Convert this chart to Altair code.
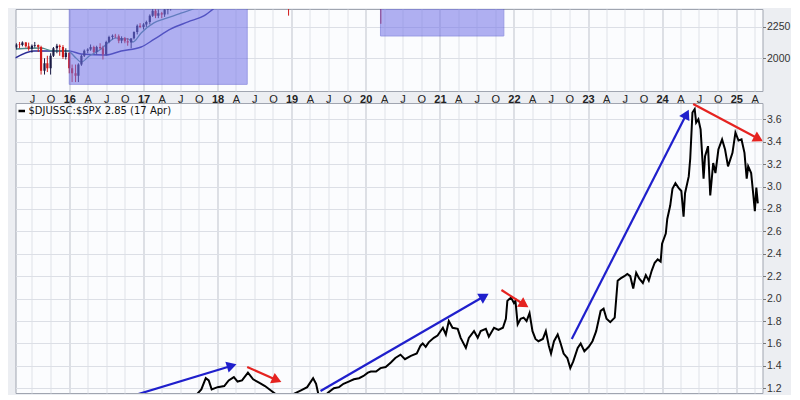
import altair as alt
import pandas as pd

# ---------------- ratio line ($DJUSSC:$SPX) ----------------
ratio_year = [2017.24, 2017.33, 2017.41, 2017.53, 2017.67, 2017.78, 2017.84, 2017.88, 2017.92, 2018.00,
              2018.09, 2018.15, 2018.22, 2018.27, 2018.33, 2018.41, 2018.48, 2018.56, 2018.64, 2018.72,
              2018.80, 2018.87, 2018.95, 2019.03, 2019.12, 2019.21, 2019.29, 2019.33, 2019.37, 2019.42,
              2019.49, 2019.57, 2019.64, 2019.70, 2019.77, 2019.84, 2019.91, 2019.97, 2020.03, 2020.07,
              2020.14, 2020.20, 2020.27, 2020.34, 2020.40, 2020.47, 2020.53, 2020.61, 2020.69, 2020.74,
              2020.77, 2020.81, 2020.85, 2020.92, 2020.97, 2021.04, 2021.08, 2021.12, 2021.17, 2021.24,
              2021.28, 2021.35, 2021.39, 2021.46, 2021.51, 2021.55, 2021.62, 2021.66, 2021.73, 2021.79,
              2021.85, 2021.89, 2021.91, 2021.96, 2022.00, 2022.02, 2022.05, 2022.09, 2022.13, 2022.17,
              2022.21, 2022.25, 2022.29, 2022.33, 2022.39, 2022.43, 2022.47, 2022.50, 2022.54, 2022.59,
              2022.63, 2022.67, 2022.72, 2022.76, 2022.80, 2022.86, 2022.90, 2022.95, 2023.01, 2023.06,
              2023.11, 2023.17, 2023.21, 2023.25, 2023.30, 2023.36, 2023.40, 2023.44, 2023.49, 2023.53,
              2023.57, 2023.61, 2023.65, 2023.69, 2023.74, 2023.78, 2023.82, 2023.86, 2023.90, 2023.94,
              2023.98, 2024.00, 2024.05, 2024.07, 2024.11, 2024.14, 2024.18, 2024.22, 2024.26, 2024.29,
              2024.31, 2024.36, 2024.38, 2024.41, 2024.44, 2024.46, 2024.49, 2024.52, 2024.56, 2024.58,
              2024.62, 2024.65, 2024.69, 2024.72, 2024.76, 2024.81, 2024.85, 2024.89, 2024.95, 2024.99,
              2025.03, 2025.07, 2025.11, 2025.14, 2025.16, 2025.20, 2025.23, 2025.25, 2025.27, 2025.29]
ratio_value = [1.04, 1.10, 1.13, 1.10, 1.11, 1.19, 1.29, 1.27, 1.19, 1.21,
               1.22, 1.27, 1.30, 1.26, 1.27, 1.34, 1.28, 1.25, 1.22, 1.18,
               1.14, 1.10, 1.11, 1.15, 1.18, 1.21, 1.29, 1.24, 1.12, 1.11,
               1.16, 1.20, 1.21, 1.24, 1.26, 1.28, 1.29, 1.31, 1.34, 1.35,
               1.35, 1.38, 1.39, 1.43, 1.47, 1.50, 1.46, 1.49, 1.51, 1.58,
               1.60, 1.57, 1.61, 1.65, 1.67, 1.74, 1.68, 1.80, 1.74, 1.73,
               1.65, 1.56, 1.65, 1.71, 1.65, 1.71, 1.73, 1.66, 1.74, 1.72,
               1.74, 1.82, 1.98, 2.01, 1.96, 1.98, 1.77, 1.82, 1.83, 1.80,
               1.87, 1.71, 1.64, 1.62, 1.64, 1.71, 1.58, 1.51, 1.62, 1.68,
               1.60, 1.51, 1.47, 1.38, 1.44, 1.56, 1.60, 1.53, 1.57, 1.62,
               1.71, 1.89, 1.91, 1.82, 1.79, 1.83, 2.16, 2.18, 2.20, 2.22,
               2.20, 2.09, 2.23, 2.18, 2.14, 2.21, 2.16, 2.25, 2.32, 2.35,
               2.33, 2.49, 2.58, 2.71, 2.83, 2.98, 3.03, 2.99, 2.96, 2.73,
               2.94, 3.09, 3.25, 3.66, 3.69, 3.57, 3.60, 3.51, 3.07, 3.27,
               3.36, 2.92, 3.21, 3.12, 3.33, 3.42, 3.33, 3.18, 3.30, 3.48,
               3.41, 3.42, 3.30, 3.07, 3.18, 3.12, 2.92, 2.78, 2.99, 2.85]

# ---------------- price panel candles (semi-monthly, visible parts) ----------------
candle_date = ["2015-04-15", "2015-05-01", "2015-05-15", "2015-06-01", "2015-06-15", "2015-07-01",
               "2015-07-15", "2015-08-01", "2015-08-15", "2015-09-01", "2015-09-15", "2015-10-01",
               "2015-10-15", "2015-11-01", "2015-11-15", "2015-12-01", "2015-12-15", "2016-01-01",
               "2016-01-15", "2016-02-01", "2016-02-15", "2016-03-01", "2016-03-15", "2016-04-01",
               "2016-04-15", "2016-05-01", "2016-05-15", "2016-06-01", "2016-06-15", "2016-07-01",
               "2016-07-15", "2016-08-01", "2016-08-15", "2016-09-01", "2016-09-15", "2016-10-01",
               "2016-10-15", "2016-11-01", "2016-11-15", "2016-12-01", "2016-12-15", "2017-01-01",
               "2017-01-15", "2017-02-01", "2017-02-15", "2017-03-01", "2017-03-15", "2017-04-01",
               "2017-04-15", "2017-05-01", "2017-05-15", "2017-06-01", "2017-06-15", "2017-07-01",
               "2017-07-15", "2017-08-01", "2017-08-15", "2017-09-01",
               "2018-12-03", "2018-12-17", "2019-01-01",
               "2020-03-02", "2020-03-16", "2020-04-01"]
candle_open = [2085, 2110, 2105, 2125, 2095, 2075, 2100, 2105, 2090, 1900, 1960, 1920,
               2020, 2080, 2100, 2090, 2010, 2045, 1920, 1880, 1860, 1950, 2020, 2060,
               2070, 2090, 2050, 2090, 2080, 2030, 2130, 2170, 2180, 2175, 2140, 2160,
               2135, 2125, 2160, 2210, 2260, 2250, 2270, 2290, 2340, 2380, 2340, 2360,
               2350, 2390, 2400, 2420, 2440, 2430, 2470, 2475, 2430, 2445,
               2790, 2600, 2507,
               3000, 2500, 2450]
candle_high = [2120, 2130, 2135, 2130, 2125, 2110, 2130, 2110, 2100, 2000, 2020, 2040,
               2090, 2115, 2110, 2105, 2080, 2045, 1950, 1950, 1960, 2030, 2070, 2080,
               2110, 2100, 2100, 2120, 2100, 2140, 2180, 2190, 2195, 2190, 2175, 2170,
               2160, 2130, 2215, 2270, 2280, 2280, 2300, 2350, 2400, 2400, 2390, 2370,
               2400, 2410, 2430, 2450, 2455, 2480, 2485, 2490, 2460, 2490,
               2800, 2610, 2640,
               3130, 2560, 2800]
candle_low = [2070, 2080, 2095, 2085, 2060, 2045, 2085, 2050, 1870, 1870, 1890, 1870,
              2010, 2040, 2020, 1995, 1990, 1880, 1810, 1810, 1810, 1940, 2010, 2040,
              2060, 2040, 2030, 2070, 1990, 2020, 2120, 2150, 2160, 2120, 2120, 2120,
              2100, 2080, 2150, 2190, 2240, 2230, 2250, 2270, 2330, 2320, 2320, 2320,
              2330, 2350, 2380, 2410, 2410, 2410, 2450, 2415, 2415, 2440,
              2620, 2340, 2444,
              2480, 2275, 2450]
candle_close = [2110, 2105, 2125, 2095, 2075, 2100, 2105, 2090, 1900, 1960, 1920, 2020,
                2080, 2100, 2090, 2010, 2045, 1920, 1880, 1860, 1950, 2020, 2060, 2070,
                2090, 2050, 2090, 2080, 2030, 2130, 2170, 2180, 2175, 2140, 2160, 2135,
                2125, 2160, 2210, 2260, 2250, 2270, 2290, 2340, 2380, 2340, 2360, 2350,
                2390, 2400, 2420, 2440, 2430, 2470, 2475, 2430, 2445, 2480,
                2633, 2507, 2630,
                2711, 2450, 2790]

# moving averages
ma50_year = [2015.28, 2015.62, 2015.78, 2015.98, 2016.09, 2016.16, 2016.27, 2016.43, 2016.52, 2016.63,
             2016.70, 2016.79, 2016.86, 2016.97, 2017.14, 2017.28, 2017.48, 2017.67, 2017.80]
ma50_value = [2074, 2082, 2058, 2058, 2002, 1970, 2018, 2074, 2122, 2162,
              2154, 2154, 2130, 2202, 2282, 2314, 2354, 2393, 2433]
ma200_year = [2015.27, 2015.52, 2015.75, 2016.00, 2016.16, 2016.49, 2016.70, 2016.97, 2017.14, 2017.37,
              2017.60, 2017.82, 2018.05]
ma200_value = [2002, 2058, 2058, 2058, 2034, 2026, 2058, 2090, 2150, 2234, 2290, 2340, 2450]

# shaded zones on the price panel
zone_start = ["2016-01-01", "2020-03-14"]
zone_end = ["2018-05-27", "2021-11-12"]
zone_low = [1792, 2178]
zone_high = [2700, 2700]

# trend arrows on the ratio panel
arrow_start_year = [2016.49, 2019.39, 2022.78, 2018.40, 2021.83, 2024.42]
arrow_start_value = [1.06, 1.176, 1.64, 1.39, 2.077, 3.736]
arrow_end_year = [2018.17, 2021.58, 2024.32, 2018.78, 2022.12, 2025.28]
arrow_end_value = [1.397, 2.014, 3.633, 1.279, 1.954, 3.432]
arrow_color = ["#1f1fcc", "#1f1fcc", "#1f1fcc", "#e52320", "#e52320", "#e52320"]
arrow_angle = [73, 60, 27, 114, 123, 118]

legend_text = "$DJUSSC:$SPX 2.85 (17 Apr)"
price_ticks = [2000, 2250]
ratio_ticks = [1.2, 1.4, 1.6, 1.8, 2.0, 2.2, 2.4, 2.6, 2.8, 3.0, 3.2, 3.4, 3.6]


def to_dates(years):
    out = []
    for y in years:
        base = int(y)
        out.append(pd.Timestamp(base, 1, 1) + pd.Timedelta(days=(y - base) * 365.25))
    return out


ratio_df = pd.DataFrame({"date": to_dates(ratio_year), "value": ratio_value})
candle_df = pd.DataFrame({"date": pd.to_datetime(candle_date), "open": candle_open, "high": candle_high,
                          "low": candle_low, "close": candle_close})
candle_df["col"] = ["#1b1b45" if c >= o else "#d11a1a" for o, c in zip(candle_open, candle_close)]
ma50_df = pd.DataFrame({"date": to_dates(ma50_year), "value": ma50_value})
ma200_df = pd.DataFrame({"date": to_dates(ma200_year), "value": ma200_value})
zone_df = pd.DataFrame({"date": pd.to_datetime(zone_start), "date2": pd.to_datetime(zone_end),
                        "value": zone_low, "value2": zone_high})
arrow_df = pd.DataFrame({"date": to_dates(arrow_start_year), "value": arrow_start_value,
                         "date2": to_dates(arrow_end_year), "value2": arrow_end_value,
                         "col": arrow_color, "ang": arrow_angle})
legend_df = pd.DataFrame({"t": [legend_text]})

x_scale = alt.Scale(domain=[alt.DateTime(year=2015, month=4, date=11),
                            alt.DateTime(year=2025, month=5, date=10)], padding=0)
is_year = "month(datum.value) == 0"
grid_col = {"condition": {"test": is_year, "value": "#bfc3cc"}, "value": "#dfe2e8"}

top_x_axis = alt.Axis(
    orient="bottom", title=None, domain=False, ticks=False, grid=True,
    tickCount={"interval": "month", "step": 3},
    labelExpr="month(datum.value) == 0 ? timeFormat(datum.value, '%y') : "
              "['J','F','M','A','M','J','J','A','S','O','N','D'][month(datum.value)]",
    labelFontWeight={"condition": {"test": is_year, "value": "bold"}, "value": "normal"},
    gridColor=grid_col, labelFont="Liberation Sans", labelFontSize=11, labelColor="#222",
    labelPadding=2, labelOverlap=False, labelFlush=False)
bottom_x_axis = alt.Axis(
    orient="top", title=None, domain=False, labels=False, ticks=True, tickSize=3,
    tickColor="#777", grid=True, tickCount={"interval": "month", "step": 3}, gridColor=grid_col)


def y_axis(values, fmt):
    return alt.Axis(orient="right", title=None, values=values, format=fmt, domain=False,
                    grid=True, gridColor="#dcdfe6", tickSize=3, tickColor="#777",
                    labelFont="Liberation Sans", labelFontSize=10.5, labelColor="#333",
                    labelPadding=1, labelOverlap=False, labelFlush=False)


top_y_axis = y_axis(price_ticks, "d")
bot_y_axis = y_axis(ratio_ticks, ".1f")

ty = alt.Scale(domain=[1739, 2393], nice=False, zero=False)
tx = alt.X("date:T", scale=x_scale, axis=top_x_axis)

zones = alt.Chart(zone_df).mark_rect(clip=True, color="#7272e8", opacity=0.55,
                                     stroke="#4c4cd0", strokeWidth=1).encode(
    x=tx, x2="date2:T",
    y=alt.Y("value:Q", scale=ty, axis=top_y_axis), y2="value2:Q")
ma200 = alt.Chart(ma200_df).mark_line(clip=True, color="#2c2c95", strokeWidth=1.4, interpolate="monotone").encode(
    x=tx, y=alt.Y("value:Q", scale=ty, axis=top_y_axis))
ma50 = alt.Chart(ma50_df).mark_line(clip=True, color="#4f8a8c", strokeWidth=1.3, interpolate="monotone").encode(
    x=tx, y=alt.Y("value:Q", scale=ty, axis=top_y_axis))
wicks = alt.Chart(candle_df).mark_rule(clip=True, strokeWidth=1).encode(
    x=tx, y=alt.Y("low:Q", scale=ty, axis=top_y_axis), y2="high:Q", color=alt.Color("col:N", scale=None))
bodies = alt.Chart(candle_df).mark_rule(clip=True, strokeWidth=2.2).encode(
    x=tx, y=alt.Y("open:Q", scale=ty, axis=top_y_axis), y2="close:Q", color=alt.Color("col:N", scale=None))

top = alt.layer(ma200, ma50, wicks, bodies, zones).properties(width=747, height=82)

by = alt.Scale(domain=[1.158, 3.745], nice=False, zero=False)
bx = alt.X("date:T", scale=x_scale, axis=bottom_x_axis)

line = alt.Chart(ratio_df).mark_line(clip=True, color="#000000", strokeWidth=2).encode(
    x=bx, y=alt.Y("value:Q", scale=by, axis=bot_y_axis))
shafts = alt.Chart(arrow_df).mark_rule(clip=True, strokeWidth=2.2).encode(
    x=bx, x2="date2:T", y=alt.Y("value:Q", scale=by, axis=bot_y_axis), y2="value2:Q",
    color=alt.Color("col:N", scale=None))
heads = alt.Chart(arrow_df).mark_point(shape="triangle", filled=True, opacity=1, size=130, clip=True).encode(
    x=alt.X("date2:T", scale=x_scale, axis=bottom_x_axis), y=alt.Y("value2:Q", scale=by, axis=bot_y_axis),
    color=alt.Color("col:N", scale=None), angle=alt.Angle("ang:Q", scale=None))
leg_text = alt.Chart(legend_df).mark_text(align="left", baseline="middle", font="DejaVu Sans",
                                          fontSize=10, color="#111").encode(
    text="t:N", x=alt.value(13), y=alt.value(8))
leg_dash = alt.Chart(legend_df).mark_rule(color="#000", strokeWidth=2.5).encode(
    x=alt.value(3), x2=alt.value(9.5), y=alt.value(8))

bottom = alt.layer(line, shafts, heads, leg_dash, leg_text).properties(width=747, height=290)

chart = alt.vconcat(top, bottom, spacing=12, bounds="flush").properties(
    padding={"left": 6.5, "top": 0, "right": 0, "bottom": 0}
).configure(background="#eceef2").configure_view(fill="#fbfcfe", stroke="#a0a5b0", strokeWidth=1)

chart.save("out.html", embed_options={"renderer": "svg", "actions": False})
